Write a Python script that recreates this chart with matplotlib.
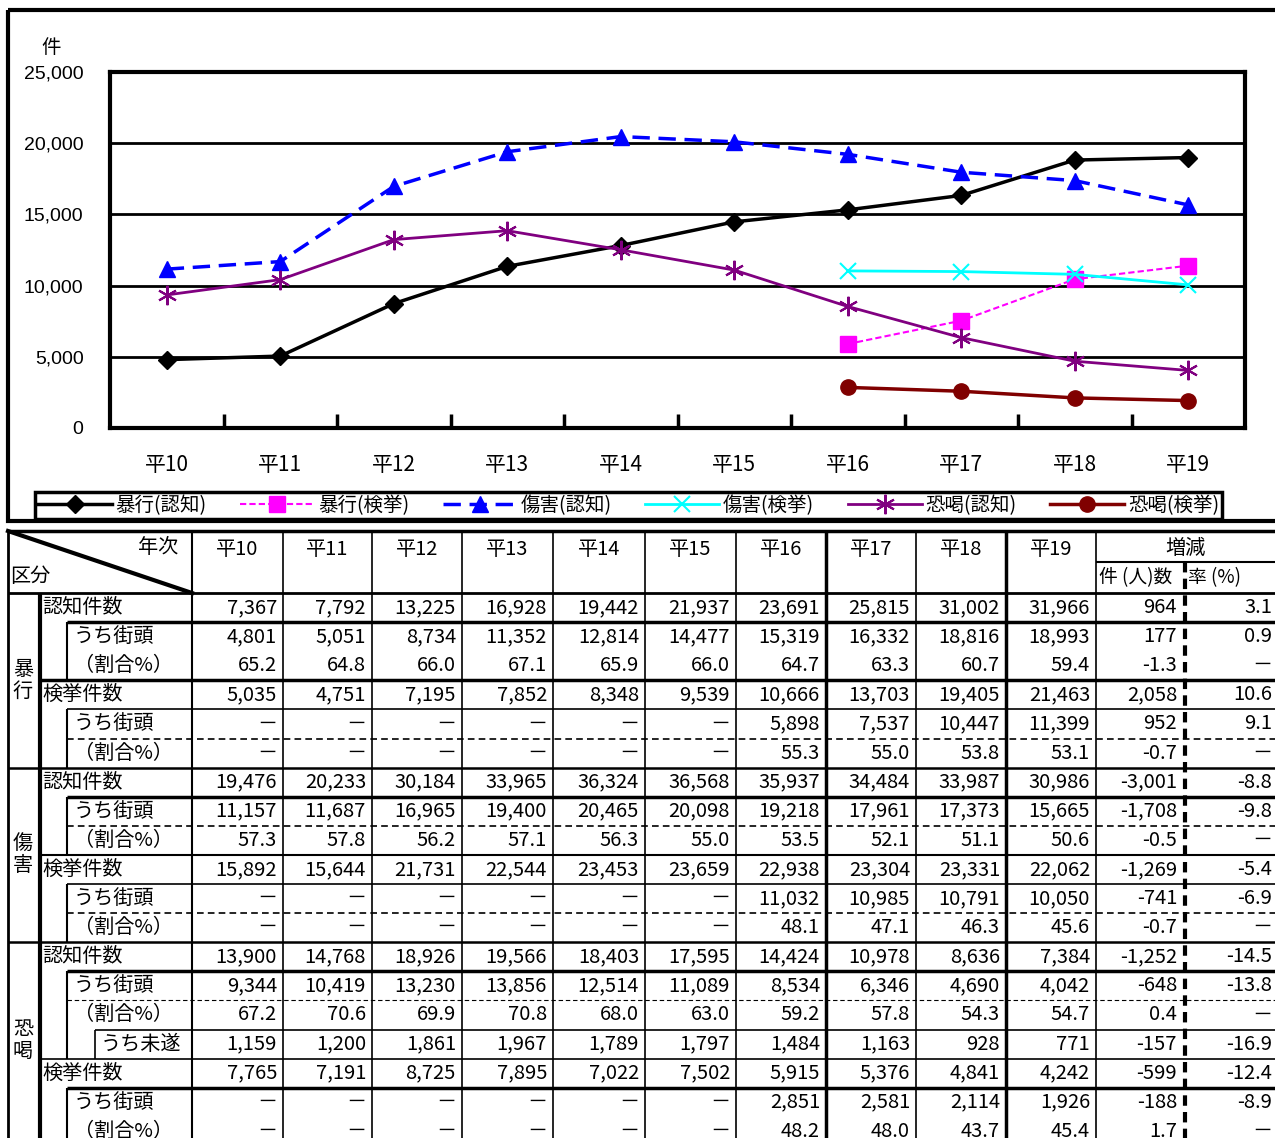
import numpy as np
import matplotlib
matplotlib.use('Agg')
import matplotlib.pyplot as plt
from matplotlib.patches import Rectangle

plt.rcParams['font.family'] = ['Noto Sans CJK JP', 'DejaVu Sans']

W, H = 1275, 1138

years = ['平10', '平11', '平12', '平13', '平14', '平15', '平16', '平17', '平18', '平19']

# 暴行
boko_nin = [7367, 7792, 13225, 16928, 19442, 21937, 23691, 25815, 31002, 31966]
boko_nin_gai = [4801, 5051, 8734, 11352, 12814, 14477, 15319, 16332, 18816, 18993]
boko_nin_pct = [65.2, 64.8, 66.0, 67.1, 65.9, 66.0, 64.7, 63.3, 60.7, 59.4]
boko_ken = [5035, 4751, 7195, 7852, 8348, 9539, 10666, 13703, 19405, 21463]
boko_ken_gai = [None, None, None, None, None, None, 5898, 7537, 10447, 11399]
boko_ken_pct = [None, None, None, None, None, None, 55.3, 55.0, 53.8, 53.1]

# 傷害
shogai_nin = [19476, 20233, 30184, 33965, 36324, 36568, 35937, 34484, 33987, 30986]
shogai_nin_gai = [11157, 11687, 16965, 19400, 20465, 20098, 19218, 17961, 17373, 15665]
shogai_nin_pct = [57.3, 57.8, 56.2, 57.1, 56.3, 55.0, 53.5, 52.1, 51.1, 50.6]
shogai_ken = [15892, 15644, 21731, 22544, 23453, 23659, 22938, 23304, 23331, 22062]
shogai_ken_gai = [None, None, None, None, None, None, 11032, 10985, 10791, 10050]
shogai_ken_pct = [None, None, None, None, None, None, 48.1, 47.1, 46.3, 45.6]

# 恐喝
kyokatsu_nin = [13900, 14768, 18926, 19566, 18403, 17595, 14424, 10978, 8636, 7384]
kyokatsu_nin_gai = [9344, 10419, 13230, 13856, 12514, 11089, 8534, 6346, 4690, 4042]
kyokatsu_nin_pct = [67.2, 70.6, 69.9, 70.8, 68.0, 63.0, 59.2, 57.8, 54.3, 54.7]
kyokatsu_misui = [1159, 1200, 1861, 1967, 1789, 1797, 1484, 1163, 928, 771]
kyokatsu_ken = [7765, 7191, 8725, 7895, 7022, 7502, 5915, 5376, 4841, 4242]
kyokatsu_ken_gai = [None, None, None, None, None, None, 2851, 2581, 2114, 1926]
kyokatsu_ken_pct = [None, None, None, None, None, None, 48.2, 48.0, 43.7, 45.4]

# 増減 (件(人)数, 率(%))
zogen_n = [964, 177, -1.3, 2058, 952, -0.7,
           -3001, -1708, -0.5, -1269, -741, -0.7,
           -1252, -648, 0.4, -157, -599, -188, 1.7]
zogen_r = [3.1, 0.9, None, 10.6, 9.1, None,
           -8.8, -9.8, None, -5.4, -6.9, None,
           -14.5, -13.8, None, -16.9, -12.4, -8.9, None]

groups = ['暴行', '傷害', '恐喝']

# label, indent level, values, kind
table_rows = [
    ('認知件数', 0, boko_nin, 'n'),
    ('うち街頭', 1, boko_nin_gai, 'n'),
    ('（割合%）', 1, boko_nin_pct, 'p'),
    ('検挙件数', 0, boko_ken, 'n'),
    ('うち街頭', 1, boko_ken_gai, 'n'),
    ('（割合%）', 1, boko_ken_pct, 'p'),
    ('認知件数', 0, shogai_nin, 'n'),
    ('うち街頭', 1, shogai_nin_gai, 'n'),
    ('（割合%）', 1, shogai_nin_pct, 'p'),
    ('検挙件数', 0, shogai_ken, 'n'),
    ('うち街頭', 1, shogai_ken_gai, 'n'),
    ('（割合%）', 1, shogai_ken_pct, 'p'),
    ('認知件数', 0, kyokatsu_nin, 'n'),
    ('うち街頭', 1, kyokatsu_nin_gai, 'n'),
    ('（割合%）', 1, kyokatsu_nin_pct, 'p'),
    ('うち未遂', 2, kyokatsu_misui, 'n'),
    ('検挙件数', 0, kyokatsu_ken, 'n'),
    ('うち街頭', 1, kyokatsu_ken_gai, 'n'),
    ('（割合%）', 1, kyokatsu_ken_pct, 'p'),
]
group_rows = [(0, 6), (6, 12), (12, 19)]

series = [
    ('暴行(認知)', boko_nin_gai, dict(color='black', marker='D', ms=9, lw=2.5)),
    ('暴行(検挙)', boko_ken_gai, dict(color='#ff00ff', marker='s', ms=12, lw=1.5, ls=(0, (3, 1.5)))),
    ('傷害(認知)', shogai_nin_gai, dict(color='#0000ff', marker='^', ms=12, lw=2.5, ls=(0, (5, 2.5)))),
    ('傷害(検挙)', shogai_ken_gai, dict(color='#00ffff', marker='x', ms=11, mew=1.5, lw=2)),
    ('恐喝(認知)', kyokatsu_nin_gai, dict(color='#800080', marker=(6, 2, 0), ms=14, mew=1.5, lw=2)),
    ('恐喝(検挙)', kyokatsu_ken_gai, dict(color='#800000', marker='o', ms=11, lw=2.5)),
]


def fmt(v, kind):
    if v is None:
        return '－'
    if kind == 'p' or isinstance(v, float):
        return f'{v:.1f}'
    return f'{v:,}'


fig = plt.figure(figsize=(W / 100, H / 100), dpi=100)

# background layer in pixel coordinates (frames + table)
bg = fig.add_axes([0, 0, 1, 1], zorder=0)
bg.set_xlim(0, W)
bg.set_ylim(H, 0)
bg.axis('off')

bg.add_patch(Rectangle((8, 10), 1300, 511, fill=False, lw=3, ec='black'))
bg.text(51, 47, '件', fontsize=14, ha='center', va='center')

# ---- chart ----
ax = fig.add_axes([110 / W, 1 - 428 / H, 1135 / W, 356 / H], zorder=1)
x = np.arange(len(years))
for name, vals, st in series:
    y = np.array([np.nan if v is None else v for v in vals], dtype=float)
    ax.plot(x, y, label=name, zorder=3, **st)

ax.set_xlim(-0.5, len(years) - 0.5)
ax.set_ylim(0, 25000)
ax.set_xticks(x)
ax.set_xticklabels(years, fontsize=15)
ax.set_xticks(np.arange(0.5, len(years) - 1), minor=True)
ax.tick_params(axis='x', which='major', length=0, pad=19)
ax.tick_params(axis='x', which='minor', direction='in', length=10, width=2.5)
yt = np.arange(0, 25001, 5000)
ax.set_yticks(yt)
ax.set_yticklabels([f'{v:,}' for v in yt], fontsize=14, family='Liberation Sans')
ax.tick_params(axis='y', length=0, pad=19)
ax.grid(axis='y', color='black', lw=2)
ax.set_axisbelow(True)
for sp in ax.spines.values():
    sp.set_linewidth(3)

handles, labels = ax.get_legend_handles_labels()
leg = fig.legend(handles, labels, loc='lower left', mode='expand', ncol=6,
                 bbox_to_anchor=(35 / W, 1 - 519 / H, 1187 / W, 31 / H),
                 fontsize=14, handlelength=3.8, handletextpad=0.2,
                 borderpad=0.15, borderaxespad=0, fancybox=False,
                 framealpha=1, edgecolor='black')
leg.get_frame().set_linewidth(2.5)

# ---- table ----
top, head_mid, head_bot = 531, 562, 593
row_h = 29.1
col_edges = [192, 283, 372, 462, 553, 645, 736, 826, 916, 1006, 1096]
diff_mid, right = 1185, 1275
x_left, x_grp, x_ind, x_ind2 = 8, 40, 67, 95
bottom = H + 20
fs = 14.5


def row_y(i):
    return head_bot + i * row_h


def hline(y, x0, x1, lw=1.0, ls='-'):
    bg.plot([x0, x1], [y, y], color='black', lw=lw, ls=ls, solid_capstyle='butt')


def vline(xp, y0, y1, lw=1.0, ls='-'):
    bg.plot([xp, xp], [y0, y1], color='black', lw=lw, ls=ls, solid_capstyle='butt')


# header
hline(top, x_left, right + 10, 2.5)
hline(head_bot, x_left, right + 10, 2)
hline(head_mid, col_edges[-1], right + 10, 1.5)
bg.plot([x_left, col_edges[0]], [top, head_bot], color='black', lw=3)
bg.text(178, 547, '年次', fontsize=fs, ha='right', va='center')
bg.text(10, 576, '区分', fontsize=fs, ha='left', va='center')
for i, yr in enumerate(years):
    bg.text((col_edges[i] + col_edges[i + 1]) / 2, 549, yr, fontsize=fs,
            ha='center', va='center')
bg.text((col_edges[-1] + right) / 2, 548, '増減', fontsize=fs, ha='center', va='center')
bg.text(col_edges[-1] + 3, 578, '件 (人)数', fontsize=13.5, ha='left', va='center')
bg.text(diff_mid + 3, 578, '率 (%)', fontsize=13.5, ha='left', va='center')

# verticals
vline(x_left, top, bottom, 2)
vline(x_grp, head_bot, bottom, 3)
vline(col_edges[0], top, bottom, 1.5)
for xe in col_edges[1:]:
    vline(xe, top, bottom, 2.5 if xe in (826, 1006) else 1.2)
vline(diff_mid, head_mid, bottom, 3, (0, (2.5, 1.5)))

# row bottom lines: (start x, lw, linestyle)
row_lines = [
    (x_ind, 2.5, '-'), None, (x_grp, 2.5, '-'), (x_ind, 1.2, '-'), (x_ind, 1.2, (0, (4, 2.5))), (x_left, 1.8, '-'),
    (x_ind, 2.5, '-'), (x_ind, 1.2, (0, (4, 2.5))), (x_grp, 1.5, '-'), (x_ind, 1.2, '-'), (x_ind, 1.2, (0, (4, 2.5))), (x_left, 1.8, '-'),
    (x_ind, 2.5, '-'), (x_ind, 0.8, (0, (4, 2.5))), (x_ind2, 1.2, '-'), (x_grp, 1.2, '-'), (x_ind, 2.5, '-'), None, None,
]

for i, (label, lvl, vals, kind) in enumerate(table_rows):
    y0, y1 = row_y(i), row_y(i + 1)
    yc = (y0 + y1) / 2
    lx = [x_grp + 2, x_ind + 7, x_ind2 + 6][lvl]
    bg.text(lx, yc, label, fontsize=fs, ha='left', va='center')
    for j, v in enumerate(vals):
        bg.text(col_edges[j + 1] - 6, yc, fmt(v, kind), fontsize=fs, ha='right', va='center')
    bg.text(diff_mid - 8, yc, fmt(zogen_n[i], kind), fontsize=fs, ha='right', va='center')
    bg.text(right - 3, yc, fmt(zogen_r[i], 'p'), fontsize=fs, ha='right', va='center')
    if lvl >= 1:
        vline(x_ind, y0, y1, 1.5)
    if lvl == 2:
        vline(x_ind2, y0, y1, 1.2)
    if row_lines[i] is not None:
        sx, lw, ls = row_lines[i]
        hline(y1, sx, right + 10, lw, ls)

for g, (a, b) in zip(groups, group_rows):
    yc = (row_y(a) + min(row_y(b), H)) / 2
    bg.text(23, yc, g[0] + '\n' + g[1], fontsize=fs, ha='center', va='center',
            linespacing=1.05)

fig.savefig('out.png', dpi=100)
